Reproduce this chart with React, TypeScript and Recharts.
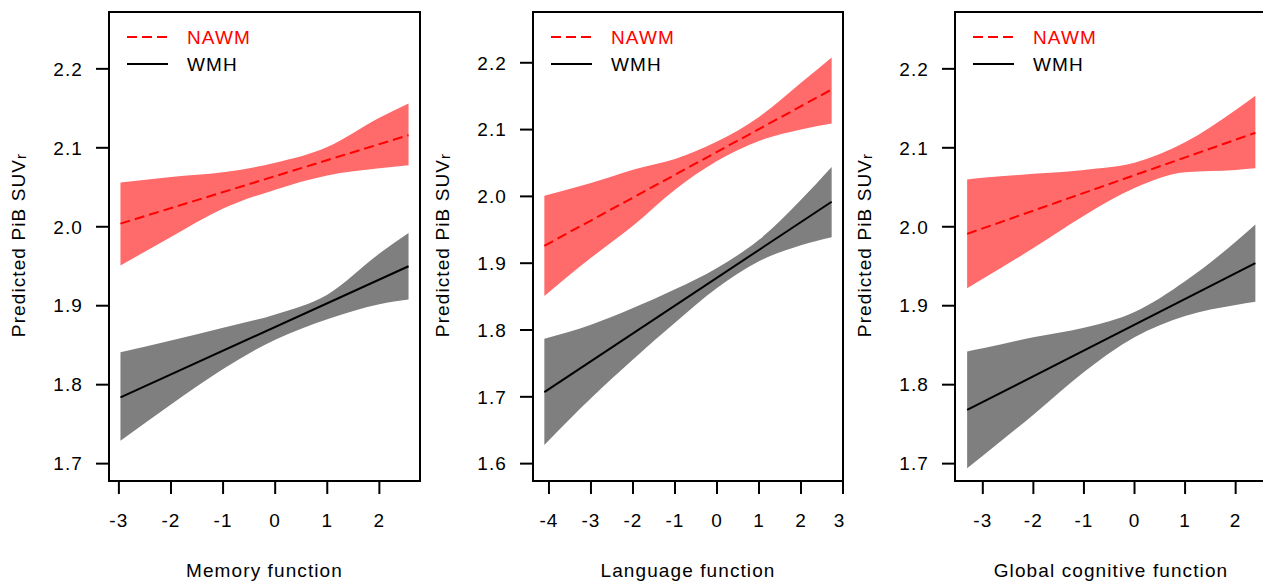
import React from 'react';
import {
  ComposedChart,
  Area,
  Line,
  XAxis,
  YAxis,
  ReferenceArea,
  Legend,
} from 'recharts';

// ---- data ----

// Memory function
const memoryX = [-2.97, -2, -1, 0, 1, 2, 2.56];
const memoryNawmLo = [1.951, 1.987, 2.023, 2.047, 2.065, 2.074, 2.078];
const memoryNawmHi = [2.056, 2.063, 2.069, 2.081, 2.101, 2.138, 2.156];
const memoryWmhLo = [1.729, 1.775, 1.82, 1.857, 1.883, 1.902, 1.908];
const memoryWmhHi = [1.841, 1.856, 1.872, 1.889, 1.914, 1.966, 1.992];
const memoryNawmLine = [2.004, 2.116];
const memoryWmhLine = [1.784, 1.95];

// Language function
const languageX = [-4.11, -3, -2, -1, 0, 1, 2, 2.73];
const languageNawmLo = [1.851, 1.908, 1.956, 2.01, 2.053, 2.083, 2.1, 2.109];
const languageNawmHi = [2.001, 2.02, 2.04, 2.056, 2.082, 2.119, 2.17, 2.208];
const languageWmhLo = [1.628, 1.698, 1.756, 1.811, 1.863, 1.903, 1.927, 1.939];
const languageWmhHi = [1.787, 1.808, 1.833, 1.861, 1.893, 1.935, 1.995, 2.044];
const languageNawmLine = [1.926, 2.16];
const languageWmhLine = [1.707, 1.992];

// Global cognitive function
const globalX = [-3.31, -3, -2, -1, 0, 1, 2, 2.39];
const globalNawmLo = [1.922, 1.934, 1.973, 2.014, 2.049, 2.069, 2.072, 2.074];
const globalNawmHi = [2.06, 2.062, 2.067, 2.072, 2.081, 2.107, 2.148, 2.166];
const globalWmhLo = [1.694, 1.71, 1.762, 1.816, 1.86, 1.887, 1.901, 1.905];
const globalWmhHi = [1.842, 1.846, 1.86, 1.872, 1.892, 1.931, 1.981, 2.003];
const globalNawmLine = [1.991, 2.119];
const globalWmhLine = [1.768, 1.954];

// axis ticks
const xTicksMemory = [-3, -2, -1, 0, 1, 2];
const xTicksLanguage = [-4, -3, -2, -1, 0, 1, 2, 3];
const xTicksGlobal = [-3, -2, -1, 0, 1, 2];
const yTicksShort = [1.7, 1.8, 1.9, 2.0, 2.1, 2.2];
const yTicksLong = [1.6, 1.7, 1.8, 1.9, 2.0, 2.1, 2.2];

const SERIES = [
  { key: 'nawm', name: 'NAWM', line: '#ff0000', band: '#ff6a6a', dash: '10 5' },
  { key: 'wmh', name: 'WMH', line: '#000000', band: '#7f7f7f', dash: undefined },
];

const FONT = '"Liberation Sans", Arial, Helvetica, sans-serif';
const FONT_SIZE = 19;

const buildRows = (
  xs: number[],
  nawmLo: number[],
  nawmHi: number[],
  wmhLo: number[],
  wmhHi: number[],
  nawmLine: number[],
  wmhLine: number[],
) =>
  xs.map((x, i) => {
    const end = i === 0 ? 0 : i === xs.length - 1 ? 1 : -1;
    return {
      x,
      nawmBand: [nawmLo[i], nawmHi[i]],
      wmhBand: [wmhLo[i], wmhHi[i]],
      nawm: end >= 0 ? nawmLine[end] : null,
      wmh: end >= 0 ? wmhLine[end] : null,
    };
  });

const PANELS = [
  {
    title: 'Memory function',
    rows: buildRows(memoryX, memoryNawmLo, memoryNawmHi, memoryWmhLo, memoryWmhHi, memoryNawmLine, memoryWmhLine),
    xTicks: xTicksMemory,
    yTicks: yTicksShort,
    xDomain: [-3.19, 2.78],
    yDomain: [1.678, 2.272],
    left: 0,
    axisWidth: 109,
    plotWidth: 311,
  },
  {
    title: 'Language function',
    rows: buildRows(languageX, languageNawmLo, languageNawmHi, languageWmhLo, languageWmhHi, languageNawmLine, languageWmhLine),
    xTicks: xTicksLanguage,
    yTicks: yTicksLong,
    xDomain: [-4.38, 3.0],
    yDomain: [1.574, 2.276],
    left: 420,
    axisWidth: 113,
    plotWidth: 310,
  },
  {
    title: 'Global cognitive function',
    rows: buildRows(globalX, globalNawmLo, globalNawmHi, globalWmhLo, globalWmhHi, globalNawmLine, globalWmhLine),
    xTicks: xTicksGlobal,
    yTicks: yTicksShort,
    xDomain: [-3.55, 2.62],
    yDomain: [1.678, 2.272],
    left: 840,
    axisWidth: 115,
    plotWidth: 312,
  },
];

const HEIGHT = 584;
const TOP = 12;
const X_AXIS_HEIGHT = 103;

const YTitle = (props: any) => {
  const vb = props.viewBox || {};
  const x = vb.x + vb.width - 83.7;
  const y = vb.y + vb.height / 2 - 1.5;
  return (
    <text
      x={x}
      y={y}
      transform={`rotate(-90, ${x}, ${y})`}
      textAnchor="middle"
      fontSize={FONT_SIZE}
      fill="#000"
    >
      Predicted PiB SUV
      <tspan fontSize={15} dy={1}>r</tspan>
    </text>
  );
};

const renderLegend = (props: any) => {
  const items = (props.payload || []).filter((p: any) => SERIES.some((s) => s.name === p.value));
  return (
    <svg width={200} height={56} style={{ overflow: 'visible', display: 'block' }}>
      {items.map((p: any, i: number) => {
        const s = SERIES.find((d) => d.name === p.value)!;
        const y = 12 + i * 27;
        return (
          <g key={s.key}>
            <line x1={0} x2={41} y1={y} y2={y} stroke={s.line} strokeWidth={2} strokeDasharray={s.dash} />
            <text x={60} y={y + 6.8} fontSize={FONT_SIZE} fill={s.line}>
              {s.name}
            </text>
          </g>
        );
      })}
    </svg>
  );
};

const Panel = ({ p }: { p: (typeof PANELS)[number] }) => {
  const width = p.axisWidth + p.plotWidth + 2;
  return (
    <div style={{ position: 'absolute', left: p.left, top: 0, width, height: HEIGHT }}>
      <ComposedChart
        width={width}
        height={HEIGHT}
        data={p.rows}
        margin={{ top: TOP, right: 2, bottom: 0, left: 0 }}
      >
        <XAxis
          type="number"
          dataKey="x"
          domain={p.xDomain}
          ticks={p.xTicks}
          allowDataOverflow
          height={X_AXIS_HEIGHT}
          axisLine={false}
          tickLine={{ stroke: '#000', strokeWidth: 2 }}
          tickSize={13}
          tickMargin={19.5}
          tick={{ fontSize: FONT_SIZE, fill: '#000' }}
          label={{ value: p.title, position: 'insideBottom', offset: 7, fontSize: FONT_SIZE, fill: '#000' }}
        />
        <YAxis
          type="number"
          domain={p.yDomain}
          ticks={p.yTicks}
          allowDataOverflow
          width={p.axisWidth}
          axisLine={false}
          tickLine={{ stroke: '#000', strokeWidth: 2 }}
          tickSize={13}
          tickMargin={13}
          tickFormatter={(v: number) => v.toFixed(1)}
          tick={{ fontSize: FONT_SIZE, fill: '#000' }}
          label={{ content: (lp: any) => <YTitle {...lp} /> }}
        />
        {SERIES.map((s) => (
          <Area
            key={`${s.key}-band`}
            type="monotone"
            dataKey={`${s.key}Band`}
            stroke="none"
            fill={s.band}
            fillOpacity={1}
            legendType="none"
            isAnimationActive={false}
            activeDot={false}
          />
        ))}
        {SERIES.map((s) => (
          <Line
            key={s.key}
            type="linear"
            dataKey={s.key}
            name={s.name}
            stroke={s.line}
            strokeWidth={2}
            strokeDasharray={s.dash}
            dot={false}
            activeDot={false}
            connectNulls
            isAnimationActive={false}
          />
        ))}
        <ReferenceArea
          x1={p.xDomain[0]}
          x2={p.xDomain[1]}
          y1={p.yDomain[0]}
          y2={p.yDomain[1]}
          fill="none"
          stroke="#000"
          strokeWidth={2}
          ifOverflow="visible"
        />
        <Legend
          layout="horizontal"
          verticalAlign="middle"
          align="center"
          content={renderLegend}
          wrapperStyle={{ left: p.axisWidth + 18, top: 25, width: 200, height: 56 }}
        />
      </ComposedChart>
    </div>
  );
};

export default function App() {
  return (
    <div
      style={{
        position: 'relative',
        width: 1263,
        height: HEIGHT,
        overflow: 'hidden',
        background: '#fff',
        fontFamily: FONT,
        letterSpacing: '1.1px',
      }}
    >
      <style>{'body { margin: 0; }'}</style>
      {PANELS.map((p) => (
        <Panel key={p.title} p={p} />
      ))}
    </div>
  );
}
